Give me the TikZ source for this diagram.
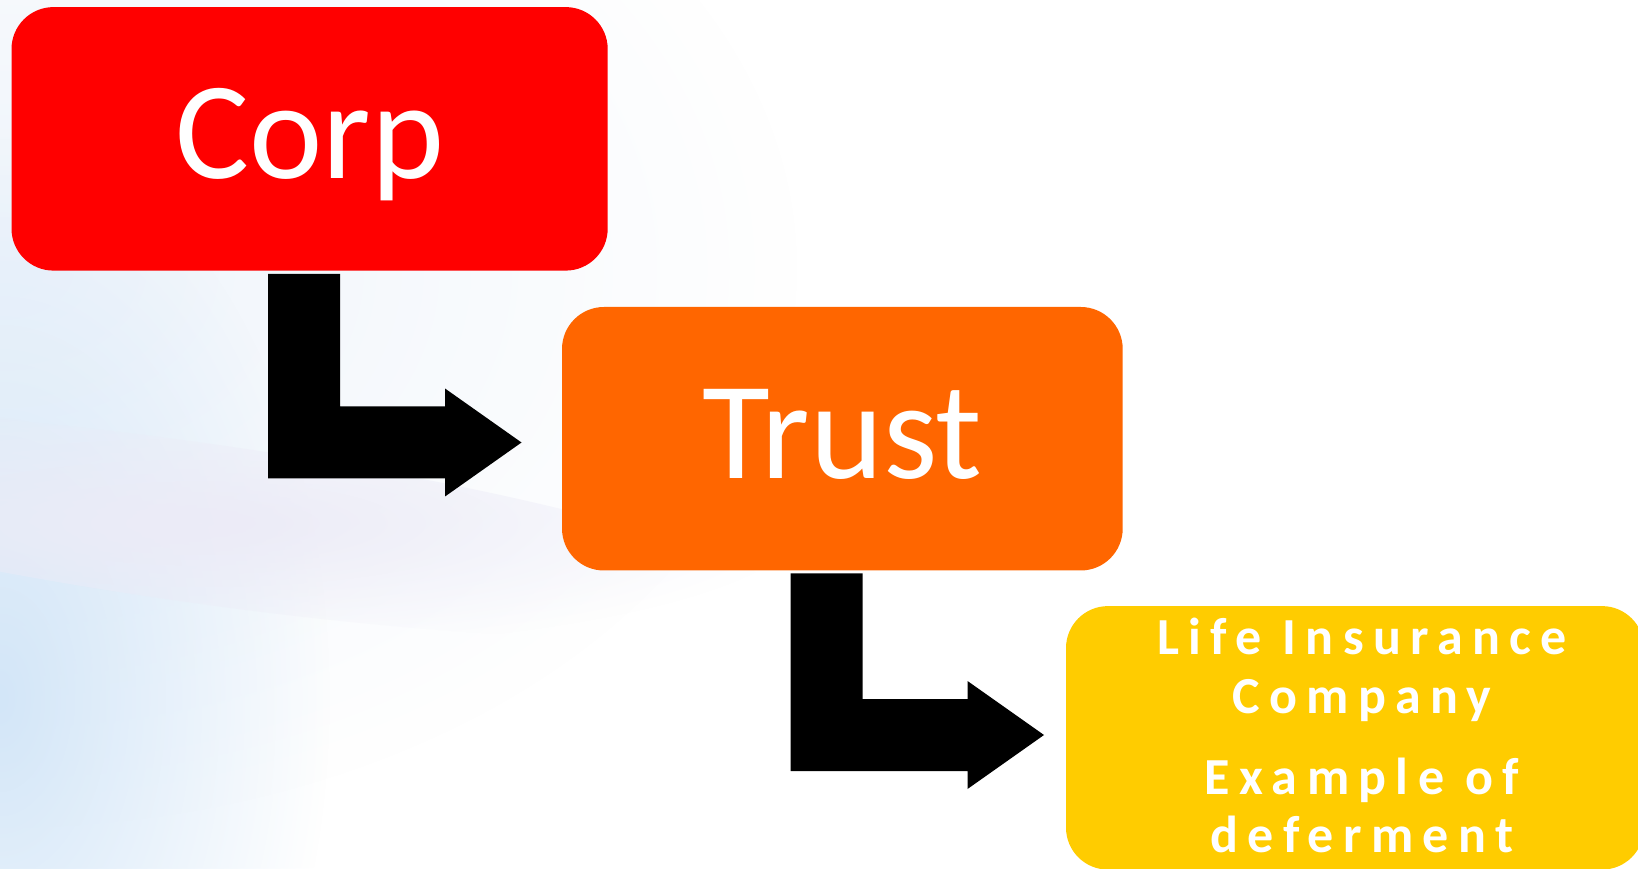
\documentclass[tikz,border=0pt]{standalone}
\usepackage{fontspec}
\setmainfont{Carlito}
\newfontfamily\spacedfont[LetterSpace=18]{Carlito}
\usetikzlibrary{calc,fadings}

\definecolor{corpred}{HTML}{FF0000}
\definecolor{trustorange}{HTML}{FF6600}
\definecolor{lifeyellow}{HTML}{FFCC00}
\definecolor{hazeblue}{HTML}{D3E6F8}
\definecolor{hazelilac}{HTML}{ECEBF7}
\definecolor{hazepale}{HTML}{EEF4FB}

% soft radial spot used for the background haze
\tikzfading[name=softspot, inner color=transparent!0, outer color=transparent!100]

\begin{document}
\begin{tikzpicture}[x=1pt, y=1pt,
  entity/.style={rectangle, rounded corners=42pt, inner sep=0pt, outer sep=0pt,
                 minimum height=263.5pt},
  bigtext/.style={text=white, inner sep=0pt, anchor=base,
                  font=\fontsize{139}{167}\selectfont},
  smalltext/.style={text=white, inner sep=0pt, anchor=base,
                    font=\spacedfont\bfseries\fontsize{52}{60}\selectfont},
  elbow/.style={fill=black}]

  % canvas and soft background haze
  \useasboundingbox (0,0) rectangle (1638,868);
  \fill[white] (0,0) rectangle (1638,868);
  \begin{scope}
    \clip (0,0) rectangle (1638,868);
    \fill[hazepale, path fading=softspot] (0,600) ellipse [x radius=800, y radius=560];
    \fill[hazeblue, path fading=softspot] (0,170) ellipse [x radius=330, y radius=560];
    \fill[hazelilac, path fading=softspot, rotate around={-8:(200,345)}]
      (200,345) ellipse [x radius=600, y radius=80];
  \end{scope}

  % boxes
  \node[entity, fill=corpred, minimum width=596.2pt] (corp) at (309.6,729.15) {};
  \node[entity, fill=trustorange, minimum width=560.7pt] (trust) at (842.35,429.25) {};
  \node[entity, fill=lifeyellow, minimum width=578pt] (life) at (1355,130.15) {};

  % labels
  \node[bigtext] (corplabel) at (309.7,689.7) {Corp};
  \node[bigtext] (trustlabel) at (842.5,389.7) {Trust};
  \node[smalltext] (lifeA) at (1362,214) {Life Insurance};
  \node[smalltext] (lifeB) at (1362,154.7) {Company};
  \node[smalltext] (lifeC) at (1362,73.7) {Example of};
  \node[smalltext] (lifeD) at (1362,15.3) {deferment};

  % elbow arrows: stem top centre and arrow tip
  \coordinate (s1) at ($(corp.south)+(-5.6,-3.3)$);
  \coordinate (h1) at ($(trust.west)+(-40.5,-3.75)$);
  \coordinate (s2) at ($(trust.south)+(-15.85,-2.8)$);
  \coordinate (h2) at ($(life.west)+(-22,2.85)$);

  \foreach \s/\h in {s1/h1, s2/h2}{
    \fill[elbow] let \p1=(\s), \p2=(\h) in
      (\x1-36pt,\y1) -- (\x1+36pt,\y1) -- (\x1+36pt,\y2+36pt)
      -- (\x2-76.5pt,\y2+36pt) -- (\x2-76.5pt,\y2+54pt) -- (\x2,\y2)
      -- (\x2-76.5pt,\y2-54pt) -- (\x2-76.5pt,\y2-36pt)
      -- (\x1-36pt,\y2-36pt) -- cycle;
  }
\end{tikzpicture}
\end{document}
